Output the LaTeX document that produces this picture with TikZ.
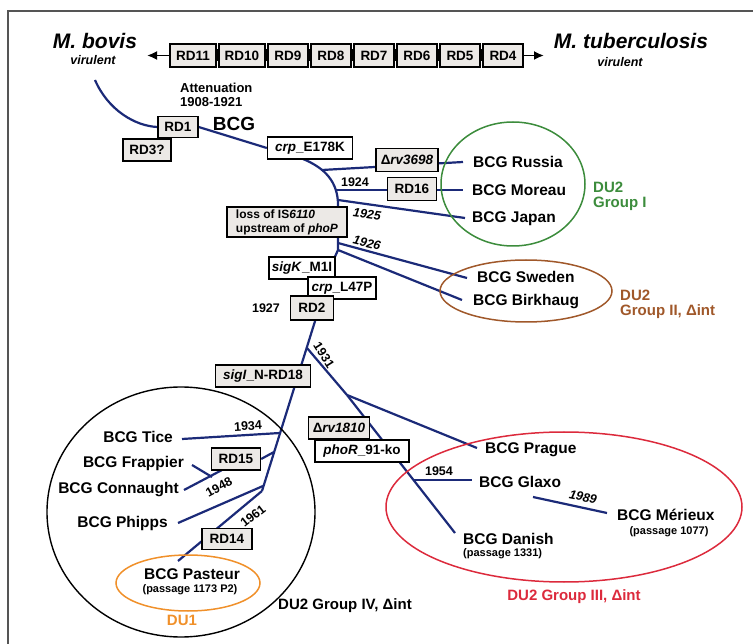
\documentclass[tikz,border=0pt]{standalone}
\usepackage{fontspec}
\setmainfont{Liberation Sans}
\usetikzlibrary{arrows.meta,calc}
\pgfdeclarelayer{bg}
\pgfsetlayers{bg,main}
\definecolor{navy}{HTML}{1B2A78}
\definecolor{boxgray}{HTML}{ECE9E6}
\definecolor{dugreen}{HTML}{3C8C3C}
\definecolor{dubrown}{HTML}{A0582A}
\definecolor{dured}{HTML}{DC2A3C}
\definecolor{duorange}{HTML}{F0902A}
\definecolor{framegray}{HTML}{555555}
\newcommand{\setfs}[1]{\fontsize{#1}{#1}\selectfont}
\tikzset{
  rdbox/.style={draw=black, line width=1.3pt, fill=boxgray, inner sep=0pt, minimum height=21pt, font=\bfseries\setfs{13.5}},
  wbox/.style={rdbox, fill=white},
  topbox/.style={rdbox, minimum height=23pt, line width=1.5pt},
  branch/.style={draw=navy, line width=2.2pt},
  strain/.style={font=\bfseries\setfs{15.5}, inner sep=0pt, anchor=west},
  strainr/.style={strain, anchor=east},
  passage/.style={font=\bfseries\setfs{11}, inner sep=0pt},
  year/.style={font=\bfseries\setfs{12.5}, inner sep=0pt},
  yeari/.style={font=\bfseries\itshape\setfs{12.5}, inner sep=0pt},
  dulabel/.style={font=\bfseries\setfs{15}, inner sep=0pt},
  species/.style={font=\bfseries\itshape\setfs{21}, inner sep=0pt},
  vir/.style={font=\bfseries\itshape\setfs{12.5}, inner sep=0pt},
}
\begin{document}
\begin{tikzpicture}[x=1pt,y=-1pt]
\useasboundingbox (0,0) rectangle (753,644);
% frame
\draw[framegray, line width=1.5pt] (8,644) -- (8,11) -- (753,11);

% top row
\node[species] (bovis) at (95,41) {M. bovis};
\node[vir] (bovisv) at (93,60) {virulent};
\node[species] (tb) at (631,41) {M. tuberculosis};
\node[vir] (tbv) at (620,62) {virulent};
\coordinate (arrL) at (147,55.5);
\coordinate (arrR) at (544,55.5);
\node[topbox, minimum width=46pt] (rd11) at (193,55.5) {RD11};
\node[topbox, minimum width=46pt] (rd10) at (242,55.5) {RD10};
\node[topbox, minimum width=40pt] (rd9) at (288,55.5) {RD9};
\node[topbox, minimum width=40pt] (rd8) at (331,55.5) {RD8};
\node[topbox, minimum width=40pt] (rd7) at (374,55.5) {RD7};
\node[topbox, minimum width=40pt] (rd6) at (417,55.5) {RD6};
\node[topbox, minimum width=40pt] (rd5) at (460,55.5) {RD5};
\node[topbox, minimum width=40pt] (rd4) at (503,55.5) {RD4};
\begin{pgfonlayer}{bg}
\draw[line width=1.8pt, -{Latex[length=10pt,width=9pt]}] (rd11.west) -- (arrL);
\draw[line width=1.8pt, -{Latex[length=10pt,width=9pt]}] (rd4.east) -- (arrR);
\draw[line width=1.4pt] (rd11.east) -- (rd10.west) (rd10.east) -- (rd9.west) (rd9.east) -- (rd8.west)
  (rd8.east) -- (rd7.west) (rd7.east) -- (rd6.west) (rd6.east) -- (rd5.west) (rd5.east) -- (rd4.west);
\end{pgfonlayer}
\foreach \a/\b in {rd11/rd10,rd10/rd9,rd9/rd8,rd8/rd7,rd7/rd6,rd6/rd5,rd5/rd4}{
  \draw[line width=1.2pt] ($(\a.east)!0.6!(\b.west)+(0,-6)$) -- ($(\a.east)!0.6!(\b.west)+(0,6)$);
}

% attenuation
\node[font=\bfseries\setfs{13}, inner sep=0pt, anchor=west] (att) at (180,88) {Attenuation};
\node[font=\bfseries\setfs{13}, inner sep=0pt, anchor=west] (attyr) at (180,102) {1908-1921};
\node[font=\bfseries\setfs{19}, inner sep=0pt] (bcg) at (234,124) {BCG};

% upper boxes
\node[rdbox, minimum width=40pt] (rd1) at (178,127) {RD1};
\node[rdbox, minimum width=48pt, minimum height=22pt] (rd3) at (147,150) {RD3?};
\node[wbox, minimum width=85pt, minimum height=22pt] (crp1) at (310,148) {\textit{crp}\_E178K};
\node[rdbox, minimum width=120pt, minimum height=30pt, align=left, font=\bfseries\fontsize{12}{14}\selectfont] (loss) at (287,222) {loss of IS\textit{6110}\\upstream of \textit{phoP}};
\node[rdbox, minimum width=62pt, minimum height=23pt] (rv3698) at (407,160) {Δ\textit{rv3698}};
\node[rdbox, minimum width=49pt, minimum height=23pt] (rd16) at (412,189) {RD16};
\node[wbox, minimum width=66pt, minimum height=22pt] (sigK) at (302,268) {\textit{sigK}\_M1I};
\node[wbox, minimum width=68pt, minimum height=22pt] (crp2) at (342,288) {\textit{crp}\_L47P};
\node[rdbox, minimum width=43pt, minimum height=24pt] (rd2) at (312,308) {RD2};
\node[year] (y1927) at (266,308) {1927};

% group I / II strains
\node[strain] (russia) at (473,162) {BCG Russia};
\node[strain] (moreau) at (472,190) {BCG Moreau};
\node[strain] (japan) at (472,219) {BCG Japan};
\node[strain] (sweden) at (477,277) {BCG Sweden};
\node[strain] (birk) at (473,302) {BCG Birkhaug};
\draw[dugreen, line width=1.5pt] (513,184) ellipse [x radius=72pt, y radius=62pt];
\draw[dubrown, line width=1.5pt] (526,291) ellipse [x radius=86pt, y radius=31pt];
\node[dulabel, text=dugreen, anchor=west] (du2a) at (593,187) {DU2};
\node[dulabel, text=dugreen, anchor=west] (du2b) at (593,204) {Group I};
\node[dulabel, text=dubrown, anchor=west] (du2c) at (620,295) {DU2};
\node[dulabel, text=dubrown, anchor=west] (du2d) at (620,312) {Group II, Δint};
\node[year] (y1924) at (355,182) {1924};
\node[yeari, rotate=-8] (y1925) at (367,214) {1925};
\node[yeari, rotate=-14] (y1926) at (367,243) {1926};

% junctions upper stem
\coordinate (s0) at (303,159);
\coordinate (j1) at (322,170);
\coordinate (j2) at (336,190);
\coordinate (j3) at (338,200);
\coordinate (j4) at (338,243);
\coordinate (j5) at (338,250);
\coordinate (bovisend) at (95,80);
\coordinate (russiaend) at (463,162);
\coordinate (moreauend) at (463,190);
\coordinate (japanend) at (465,218);
\coordinate (swedenend) at (467,278);
\coordinate (birkend) at (462,300);

% lower part
\node[rdbox, minimum width=95pt, minimum height=22pt] (sigI) at (263,376) {\textit{sigI}\_N-RD18};
\node[rdbox, minimum width=61pt, minimum height=22pt] (rv1810) at (339,428) {Δ\textit{rv1810}};
\node[wbox, minimum width=94pt, minimum height=22pt] (phoR) at (362,451) {\textit{phoR}\_91-ko};
\node[rdbox, minimum width=49pt, minimum height=22pt] (rd15) at (236,459) {RD15};
\node[rdbox, minimum width=50pt, minimum height=21pt] (rd14) at (227,539) {RD14};

\coordinate (k0) at (316,318);
\coordinate (k1) at (307,348);
\coordinate (k2) at (280,433);
\coordinate (k3) at (274,452);
\coordinate (k4) at (263,486);
\coordinate (k5) at (262,491);
\coordinate (m1) at (347,395);
\coordinate (g1) at (413,480);
\coordinate (pragueend) at (477,448);
\coordinate (danishend) at (455,533);
\coordinate (glaxoend) at (472,480);
\coordinate (mer0) at (533,497);
\coordinate (merend) at (607,513);
\coordinate (ticeend) at (182,439);
\coordinate (frapend) at (192,465);
\coordinate (frapj) at (212,477);
\coordinate (connend) at (184,490);
\coordinate (rd15b) at (222,470);
\coordinate (phippsend) at (178,523);
\coordinate (pastend) at (178,561);

\node[strain] (prague) at (485,450) {BCG Prague};
\node[strain] (glaxo) at (479,482) {BCG Glaxo};
\node[strain] (merieux) at (617,515) {BCG Mérieux};
\node[passage] (p1077) at (669,532) {(passage 1077)};
\node[strain] (danish) at (463,539) {BCG Danish};
\node[passage, anchor=west] (p1331) at (463,554) {(passage 1331)};
\draw[dured, line width=1.5pt] (564,507) ellipse [x radius=178pt, y radius=75pt];
\node[dulabel, text=dured] (du3) at (574,597) {DU2 Group III, Δint};

\node[strainr] (tice) at (173,437) {BCG Tice};
\node[strainr] (frap) at (184,463) {BCG Frappier};
\node[strainr] (conn) at (179,490) {BCG Connaught};
\node[strainr] (phipps) at (168,523) {BCG Phipps};
\draw[black, line width=1.4pt] (181,512) ellipse [x radius=134pt, y radius=125pt];
\draw[duorange, line width=1.5pt] (188,583) ellipse [x radius=72pt, y radius=28pt];
\node[strain, anchor=center] (pasteur) at (192,574) {BCG Pasteur};
\node[passage] (p1173) at (190,590) {(passage 1173 P2)};
\node[dulabel, text=duorange] (du1) at (182,620) {DU1};
\node[dulabel, anchor=west] (du4) at (278,606) {DU2 Group IV, Δint};

\node[year, rotate=-58] (y1931) at (324,355) {1931};
\node[year, rotate=3] (y1934) at (248,426) {1934};
\node[year, rotate=28] (y1948) at (219,487) {1948};
\node[year] (y1954) at (439,471) {1954};
\node[year, rotate=38] (y1961) at (253,516) {1961};
\node[yeari, rotate=-12] (y1989) at (583,497) {1989};

\begin{pgfonlayer}{bg}
\draw[branch] (bovisend) .. controls (108,110) and (135,126) .. (rd1.west);
\draw[branch] (rd1.east) -- (crp1.west);
\draw[branch] (s0) .. controls (325,168) and (338,182) .. (338,205) -- (j5) -- (rd2.center) -- (k0);
\draw[branch] (j1) -- (russiaend);
\draw[branch] (j2) -- (moreauend);
\draw[branch] (j3) -- (japanend);
\draw[branch] (j4) -- (swedenend);
\draw[branch] (j5) -- (birkend);
\draw[branch] (k0) -- (k5);
\draw[branch] (k1) -- (m1);
\draw[branch] (m1) -- (pragueend);
\draw[branch] (m1) -- (danishend);
\draw[branch] (g1) -- (glaxoend);
\draw[branch] (mer0) -- (merend);
\draw[branch] (ticeend) -- (k2);
\draw[branch] (rd15.east) -- (k3);
\draw[branch] (connend) -- (rd15b);
\draw[branch] (frapend) -- (frapj);
\draw[branch] (phippsend) -- (k4);
\draw[branch] (k5) -- (pastend);
\end{pgfonlayer}
\end{tikzpicture}
\end{document}
